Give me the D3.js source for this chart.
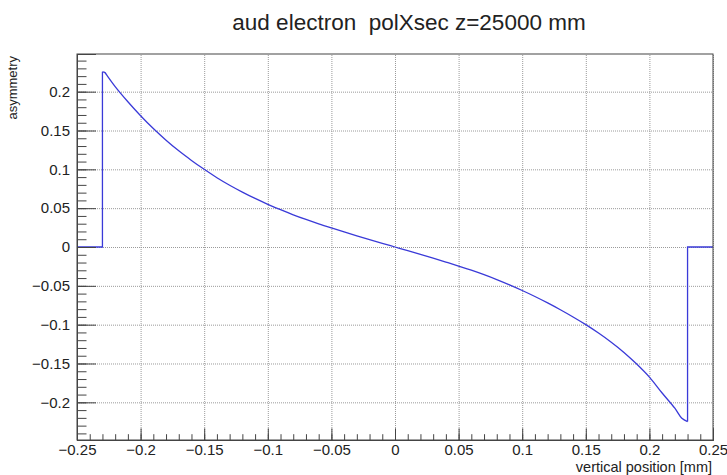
<!DOCTYPE html>
<html>
<head>
<meta charset="utf-8">
<script src="https://cdn.jsdelivr.net/npm/d3@7"></script>
<style>
  body { margin: 0; background: #fff; }
  text { font-family: "Liberation Sans", Arial, sans-serif; fill: #222; }
</style>
</head>
<body>
<div id="chart"></div>
<script>
// histogram contents (x in mm, asymmetry)
var posX = [-0.25, -0.23, -0.23, -0.228, -0.2267, -0.22, -0.21, -0.2, -0.19, -0.18, -0.17, -0.16,
            -0.15, -0.14, -0.13, -0.12, -0.11, -0.1, -0.09, -0.08, -0.07, -0.06, -0.05, -0.04, -0.03, -0.02, -0.01,
            0, 0.01, 0.02, 0.03, 0.04, 0.05, 0.06, 0.07, 0.08, 0.09, 0.1, 0.11, 0.12, 0.13, 0.14, 0.15,
            0.16, 0.17, 0.18, 0.19, 0.2, 0.21, 0.22, 0.2255, 0.23, 0.23, 0.25];
var asym = [0, 0, 0.2255, 0.2245, 0.2215, 0.2065, 0.187, 0.169, 0.1525, 0.1375, 0.1238, 0.1115,
            0.100, 0.0892, 0.0795, 0.0707, 0.0625, 0.055, 0.048, 0.0415, 0.0355, 0.0298, 0.0245, 0.0194, 0.0144, 0.0095, 0.0047,
            0, -0.0047, -0.0095, -0.0144, -0.0194, -0.0245, -0.0299, -0.0357, -0.042, -0.0488, -0.056, -0.0637, -0.072, -0.0808, -0.0901, -0.100,
            -0.1108, -0.1226, -0.1357, -0.1507, -0.1675, -0.188, -0.2075, -0.2205, -0.2248, 0, 0];

var xTicks = [-0.25, -0.2, -0.15, -0.1, -0.05, 0, 0.05, 0.1, 0.15, 0.2, 0.25];
var yTicks = [-0.2, -0.15, -0.1, -0.05, 0, 0.05, 0.1, 0.15, 0.2];

var svgWidth = 727;
var svgHeight = 475;
var margin = {top: 54, right: 14, bottom: 35, left: 77};
var width = svgWidth - margin.left - margin.right;
var height = svgHeight - margin.top - margin.bottom;

var svg = d3.select("#chart").append("svg")
    .attr("width", svgWidth)
    .attr("height", svgHeight);

var g = svg.append("g")
    .attr("transform", `translate(${margin.left}, ${margin.top})`);

var xScale = d3.scaleLinear().domain([-0.25, 0.25]).range([0, width]);
var yScale = d3.scaleLinear().domain([-0.2485, 0.2485]).range([height, 0]);

var fmt = d3.format("~g");

// grid
g.append("g")
    .attr("class", "grid")
    .attr("transform", `translate(0, ${height})`)
    .call(d3.axisBottom(xScale).tickValues(xTicks).tickSize(-height).tickFormat(""));
g.append("g")
    .attr("class", "grid")
    .call(d3.axisLeft(yScale).tickValues(yTicks).tickSize(-width).tickFormat(""));
g.selectAll(".grid .domain").remove();
g.selectAll(".grid line")
    .attr("stroke", "#9a9a9a")
    .attr("stroke-dasharray", "1,1");

// the histogram: flat edges + steps drawn straight, the body smooth
var pts = posX.map(function(x, i) { return [x, asym[i]]; });
var n = pts.length;
var straight = d3.line()
    .x(function(d) { return xScale(d[0]); })
    .y(function(d) { return yScale(d[1]); });
var smooth = d3.line()
    .x(function(d) { return xScale(d[0]); })
    .y(function(d) { return yScale(d[1]); })
    .curve(d3.curveCatmullRom.alpha(0.5));

var parts = [
    {d: straight(pts.slice(0, 3))},
    {d: smooth(pts.slice(2, n - 2))},
    {d: straight(pts.slice(n - 3))}
];
g.selectAll(".hist")
    .data(parts)
    .enter().append("path")
    .attr("class", "hist")
    .attr("d", function(p) { return p.d; })
    .attr("fill", "none")
    .attr("stroke", "#3a3ad8")
    .attr("stroke-width", 1.3);

// minor ticks
g.append("g")
    .attr("class", "minor")
    .attr("transform", `translate(0, ${height})`)
    .call(d3.axisBottom(xScale).ticks(50).tickSize(-5.8).tickFormat(""));
g.append("g")
    .attr("class", "minor")
    .call(d3.axisLeft(yScale).ticks(50).tickSize(-9.5).tickFormat(""));

// major ticks + labels
g.append("g")
    .attr("transform", `translate(0, ${height})`)
    .call(d3.axisBottom(xScale).tickValues(xTicks).tickSize(-11.6).tickPadding(4).tickFormat(fmt));
g.append("g")
    .call(d3.axisLeft(yScale).tickValues(yTicks).tickSize(-19).tickPadding(7).tickFormat(fmt));

g.selectAll(".tick text")
    .attr("font-size", 15)
    .attr("fill", "#222");
g.selectAll(".tick line").filter(function() { return !this.closest(".grid"); })
    .attr("stroke", "#444");
g.selectAll(".domain").attr("stroke", "#444");

// frame
g.append("rect")
    .attr("width", width)
    .attr("height", height)
    .attr("fill", "none")
    .attr("stroke", "#444");

// titles
svg.append("text")
    .attr("x", 409)
    .attr("y", 30)
    .attr("text-anchor", "middle")
    .attr("font-size", 22.5)
    .style("white-space", "pre")
    .text("aud electron  polXsec z=25000 mm");

svg.append("text")
    .attr("x", margin.left + width - 1)
    .attr("y", 472)
    .attr("text-anchor", "end")
    .attr("font-size", 14.5)
    .text("vertical position [mm]");

svg.append("text")
    .attr("transform", `translate(17, ${margin.top + 2}) rotate(-90)`)
    .attr("text-anchor", "end")
    .attr("font-size", 13)
    .text("asymmetry");
</script>
</body>
</html>
